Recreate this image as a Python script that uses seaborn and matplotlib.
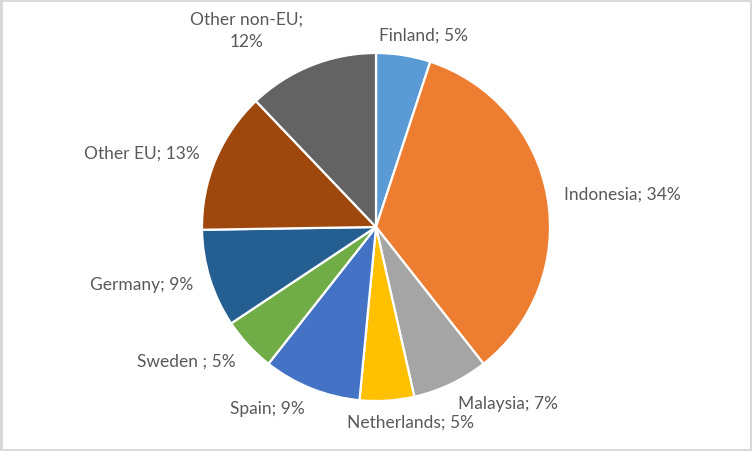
import matplotlib
matplotlib.use("Agg")
import matplotlib.pyplot as plt
import seaborn as sns

# data
countries = ["Finland", "Indonesia", "Malaysia", "Netherlands", "Spain",
             "Sweden ", "Germany", "Other EU", "Other non-EU"]
shares = [5, 34, 7, 5, 9, 5, 9, 13, 12]
colors = ["#5B9BD5", "#ED7D31", "#A5A5A5", "#FFC000", "#4472C4",
          "#70AD47", "#255E91", "#9E480E", "#636363"]

sns.set_theme(style="white")
plt.rcParams["font.family"] = ["Lato", "DejaVu Sans"]

fig = plt.figure(figsize=(7.52, 4.52), dpi=100)
# light grey frame
fig.patches.append(plt.Rectangle((0.0015, 0.0025), 0.997, 0.995, transform=fig.transFigure,
                                 fill=False, edgecolor="#D9D9D9", linewidth=2.2))

r_px = 174
ax = fig.add_axes([(376 - r_px) / 752, (452 - 228 - r_px) / 452, 2 * r_px / 752, 2 * r_px / 452])

labels = []
for c, s in zip(countries, shares):
    if c == "Other non-EU":
        labels.append(f"{c};\n{s}%")
    else:
        labels.append(f"{c}; {s}%")

wedges, texts = ax.pie(shares, labels=labels, colors=sns.color_palette(colors),
                       startangle=90, counterclock=False, labeldistance=1.1,
                       wedgeprops=dict(edgecolor="white", linewidth=1.6),
                       textprops=dict(color="#595959", fontsize=12.5))
for t in texts:
    x, y = t.get_position()
    if abs(x) < 0.2:
        t.set_ha("center")
    if y < -0.5:
        y = y - 0.02
        t.set_position((x, y))
    t.set_multialignment("center")
    if "\n" in t.get_text():
        t.set_va("bottom")
        t.set_linespacing(1.55)
        t.set_position((x - 0.01, y))
    if t.get_text().startswith("Finland"):
        t.set_position((x + 0.1, y + 0.02))
    if t.get_text().startswith("Netherlands"):
        t.set_position((x + 0.13, y))

ax.set_xlim(-1, 1)
ax.set_ylim(-1, 1)
ax.set_aspect("auto")
ax.axis("off")

fig.savefig("out.png", dpi=100)
